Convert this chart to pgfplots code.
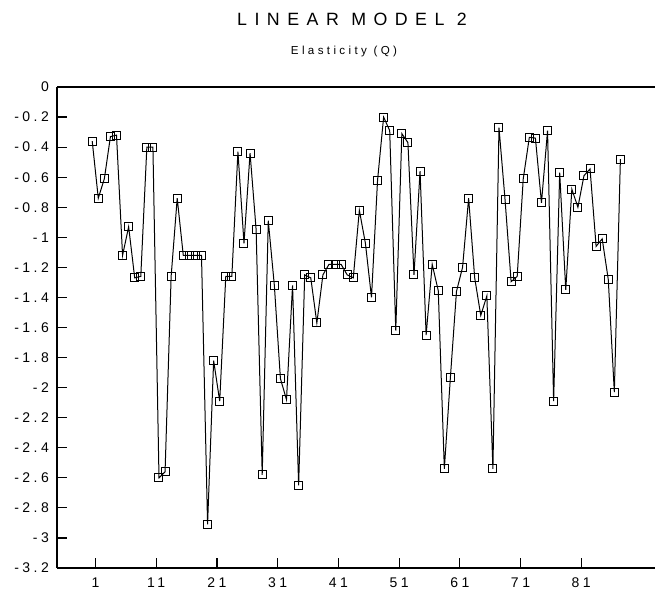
\documentclass[border=0pt]{standalone}
\usepackage{pgfplots}
\pgfplotsset{compat=1.18}
\usepackage{fontspec}
\setmainfont{Liberation Sans}
\newfontfamily\tickfont[LetterSpace=25]{Liberation Sans}
\newfontfamily\titlefont[LetterSpace=42]{Liberation Sans}
\newfontfamily\subfont[LetterSpace=29]{Liberation Sans}
\pgfplotstableread{
i v
1 -0.36
2 -0.74
3 -0.61
4 -0.33
5 -0.32
6 -1.12
7 -0.93
8 -1.27
9 -1.26
10 -0.40
11 -0.40
12 -2.60
13 -2.56
14 -1.26
15 -0.74
16 -1.12
17 -1.12
18 -1.12
19 -1.12
20 -2.91
21 -1.82
22 -2.09
23 -1.26
24 -1.26
25 -0.43
26 -1.04
27 -0.44
28 -0.95
29 -2.58
30 -0.89
31 -1.32
32 -1.94
33 -2.08
34 -1.32
35 -2.65
36 -1.25
37 -1.27
38 -1.57
39 -1.25
40 -1.18
41 -1.18
42 -1.18
43 -1.25
44 -1.27
45 -0.82
46 -1.04
47 -1.40
48 -0.62
49 -0.20
50 -0.29
51 -1.62
52 -0.31
53 -0.37
54 -1.25
55 -0.56
56 -1.65
57 -1.18
58 -1.355
59 -2.54
60 -1.93
61 -1.36
62 -1.20
63 -0.74
64 -1.27
65 -1.52
66 -1.39
67 -2.54
68 -0.27
69 -0.75
70 -1.295
71 -1.26
72 -0.61
73 -0.335
74 -0.34
75 -0.77
76 -0.29
77 -2.09
78 -0.57
79 -1.35
80 -0.68
81 -0.80
82 -0.59
83 -0.545
84 -1.06
85 -1.01
86 -1.28
87 -2.03
88 -0.48
}\datatable
\begin{document}
\begin{tikzpicture}[x=0.5pt,y=0.5pt]
\useasboundingbox (0,0) rectangle (655,589);
\begin{axis}[
  at={(28.5pt,10.5pt)}, anchor=south west,
  scale only axis, width=299pt, height=240.5pt,
  xmin=-4.8, xmax=93.7, ymin=-3.2, ymax=0,
  separate axis lines,
  axis x line*=box, axis y line*=left,
  axis line style={-, black, line width=0.9pt},
  every outer y axis line/.append style={-},
  every inner y axis line/.append style={-},
  xtick pos=bottom, ytick pos=left,
  tick align=inside,
  major tick length=5pt,
  tick style={black, line width=0.6pt},
  xtick={1.55,11.55,21.55,31.55,41.55,51.55,61.55,71.55,81.55},
  xticklabels={1,11,21,31,41,51,61,71,81},
  ytick={0,-0.2,-0.4,-0.6,-0.8,-1,-1.2,-1.4,-1.6,-1.8,-2,-2.2,-2.4,-2.6,-2.8,-3,-3.2},
  yticklabels={0,-0.2,-0.4,-0.6,-0.8,-1,-1.2,-1.4,-1.6,-1.8,-2,-2.2,-2.4,-2.6,-2.8,-3,-3.2},
  xticklabel style={font=\tickfont\fontsize{7}{8}\selectfont, yshift=-1.5pt},
  yticklabel style={font=\tickfont\fontsize{7}{8}\selectfont, xshift=-0.5pt},
  clip=false,
]
\addplot[black, line width=0.5pt, mark=square, mark size=2pt,
  mark options={solid, fill=white, line width=0.5pt}] table[x=i, y=v] {\datatable};
\end{axis}
\node[font=\titlefont\fontsize{8.9}{10}\selectfont] at (352,569.5) {LINEAR MODEL 2};
\node[font=\subfont\fontsize{5.8}{7}\selectfont] at (344,537) {Elasticity (Q)};
\end{tikzpicture}
\end{document}
